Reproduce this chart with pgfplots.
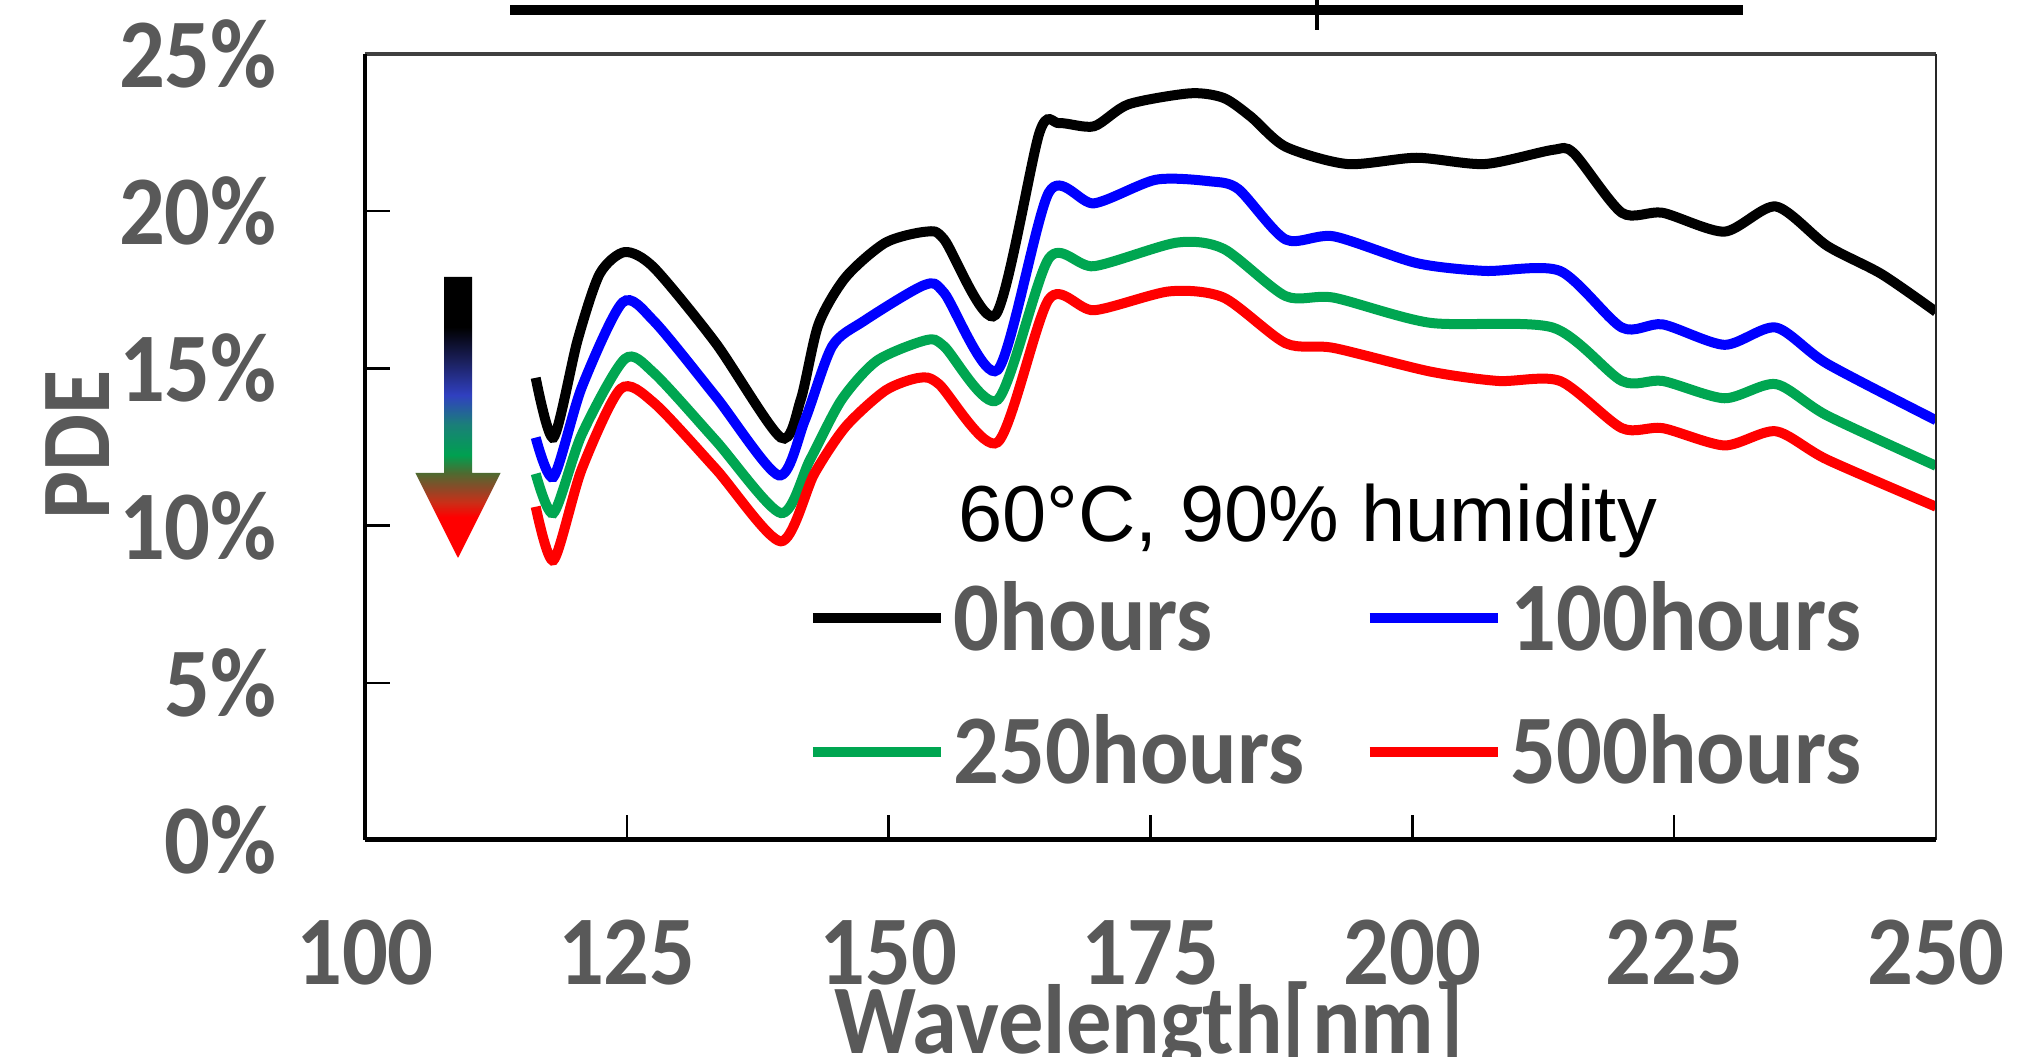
\documentclass[border=0pt]{standalone}
\usepackage{pgfplots}
\pgfplotsset{compat=1.18}
\usepackage{fontspec}
\setmainfont{Carlito}
\newfontfamily\calb[FakeStretch=0.92]{Carlito}
\newcommand{\lblfont}{\calb\bfseries\fontsize{28}{33}\selectfont}
\newfontfamily\arialfont{Liberation Sans}
\definecolor{lblgray}{HTML}{595959}
\definecolor{xgreen}{HTML}{00A651}
\definecolor{cRed}{HTML}{FF0000}
\definecolor{cRedBr}{HTML}{C83018}
\definecolor{cBrown}{HTML}{8A4A28}
\definecolor{cOlive}{HTML}{4F6A30}
\definecolor{cGreen}{HTML}{00A050}
\definecolor{cTeal}{HTML}{1A8078}
\definecolor{cBlue}{HTML}{3040C0}
\definecolor{cNavy}{HTML}{1A1F5A}
\pgfdeclareverticalshading{arrowshade}{100bp}{color(0bp)=(cRed); color(32.3bp)=(cRed); color(35bp)=(cRedBr); color(37.5bp)=(cBrown); color(40.1bp)=(cOlive); color(43.3bp)=(cGreen); color(48.7bp)=(cTeal); color(54bp)=(cBlue); color(60.2bp)=(cNavy); color(66.1bp)=(black); color(100bp)=(black)}

\pgfplotstableread{
x y
116.3 14.7
118.0 12.8
120.3 15.9
122.4 18.0
124.8 18.7
127.6 18.2
133.5 15.8
139.7 12.8
141.6 14.0
143.3 16.4
145.9 17.9
149.7 19.0
153.6 19.35
155.3 19.1
160.2 16.7
164.4 22.5
166.3 22.8
169.6 22.7
172.9 23.4
178.8 23.75
182.0 23.6
184.6 23.0
187.9 22.05
193.8 21.5
200.4 21.7
206.9 21.5
213.4 21.95
215.4 21.85
220.0 19.95
223.9 19.95
229.8 19.35
234.7 20.15
239.6 18.9
244.8 18.0
250.0 16.8
}\tzero

\pgfplotstableread{
x y
116.3 12.8
118.0 11.55
120.7 14.4
124.6 17.1
127.6 16.5
133.5 14.1
139.5 11.6
142.0 13.35
144.6 15.7
147.6 16.5
153.4 17.65
155.3 17.4
160.4 14.95
165.3 20.6
169.6 20.25
175.5 21.0
180.7 20.95
183.4 20.7
187.9 19.1
192.5 19.2
200.4 18.35
206.9 18.1
214.1 18.1
220.0 16.3
223.9 16.4
229.8 15.75
234.7 16.3
239.6 15.15
250.0 13.35
}\thundred

\pgfplotstableread{
x y
116.3 11.65
118.0 10.4
120.7 12.9
124.8 15.3
127.6 14.85
133.5 12.7
139.7 10.4
142.5 12.1
145.5 14.0
148.9 15.25
153.6 15.9
155.3 15.7
160.4 14.0
165.3 18.5
169.6 18.25
177.5 19.0
182.0 18.8
187.9 17.3
192.5 17.25
201.7 16.45
213.4 16.3
220.0 14.6
223.9 14.6
229.8 14.05
234.7 14.5
239.6 13.5
250.0 11.9
}\ttwofifty

\pgfplotstableread{
x y
116.3 10.6
118.0 8.9
120.7 11.8
124.4 14.35
127.6 13.9
133.5 11.8
139.7 9.5
142.9 11.65
145.9 13.15
149.7 14.3
152.9 14.7
154.8 14.5
160.4 12.65
165.3 17.2
169.6 16.85
176.8 17.45
182.0 17.25
187.9 15.8
192.5 15.65
201.7 14.9
208.2 14.6
214.1 14.6
220.0 13.1
223.9 13.1
229.8 12.55
234.7 13.0
239.6 12.1
250.0 10.6
}\tfivehundred

\begin{document}
\begin{tikzpicture}[x=1mm,y=1mm]
\useasboundingbox (-36.5,-21.7) rectangle (165.9,84.0);
\begin{axis}[
  at={(0,0)}, anchor=south west,
  width=157.1mm, height=78.6mm, scale only axis,
  xmin=100, xmax=250, ymin=0, ymax=25,
  xtick={100,125,150,175,200,225,250},
  ytick={0,5,10,15,20,25},
  axis line style={draw=none},
  tick align=inside, xtick pos=bottom, ytick pos=left,
  major tick length=2.5mm,
  major tick style={black, line width=0.25mm},
  /pgf/number format/assume math mode=true,
  tick label style={font=\lblfont, text=lblgray, inner sep=0pt},
  yticklabel={\pgfmathprintnumber{\tick}\%},
  yticklabel style={anchor=east, xshift=-8.75mm},
  xticklabel style={anchor=center, yshift=-11.26mm},
  xlabel={Wavelength[nm]},
  ylabel={PDE},
  xlabel style={at={(axis description cs:0.499,0)}, anchor=base, yshift=-21.3mm, font=\lblfont, text=lblgray, inner sep=0pt},
  ylabel style={at={(axis description cs:-0.183,0.5025)}, anchor=center, font=\lblfont, text=lblgray, inner sep=0pt},
  legend columns=2,
  legend cell align=left,
  legend image code/.code={\draw[#1, line width=1mm] (0mm,0mm) -- (12.8mm,0mm);},
  legend style={draw=none, fill=none, at={(axis description cs:0.2815,0.330)}, anchor=north west,
    font=\lblfont, text=lblgray, inner sep=0pt, row sep=5.9mm,
    nodes={inner sep=0pt},
    /tikz/every odd column/.append style={column sep=0.8mm},
    /tikz/every even column/.append style={column sep=6.0mm}},
  every axis plot/.append style={line width=1mm, smooth, tension=0.45},
]
\addplot[black] table[x=x,y=y] {\tzero};
\addlegendentry{0hours}
\addplot[blue] table[x=x,y=y] {\thundred};
\addlegendentry{100hours}
\addplot[xgreen] table[x=x,y=y] {\ttwofifty};
\addlegendentry{250hours}
\addplot[red] table[x=x,y=y] {\tfivehundred};
\addlegendentry{500hours}
\node[anchor=base west, font=\arialfont\fontsize{22.6}{27}\selectfont, inner sep=0pt] at (axis cs:156.6,9.48) {60°C, 90\% humidity};
\end{axis}
% frame
\draw[black!75, line width=0.4mm] (0,78.6) -- (157.1,78.6);
\draw[black!85, line width=0.2mm] (157.1,0) -- (157.1,78.6);
\draw[black, line width=0.35mm] (0,0) -- (0,78.6);
\draw[black, line width=0.5mm] (0,0) -- (157.1,0);
% cropped title rule
\draw[black, line width=1.0mm] (14.5,83.0) -- (137.8,83.0);
\draw[black, line width=0.45mm] (95.2,84.5) -- (95.2,81.0);
% gradient arrow
\shade[shading=arrowshade] (7.9,56.3) -- (10.7,56.3) -- (10.7,36.7) -- (13.56,36.7) -- (9.3,28.2) -- (5.04,36.7) -- (7.9,36.7) -- cycle;
\end{tikzpicture}
\end{document}
